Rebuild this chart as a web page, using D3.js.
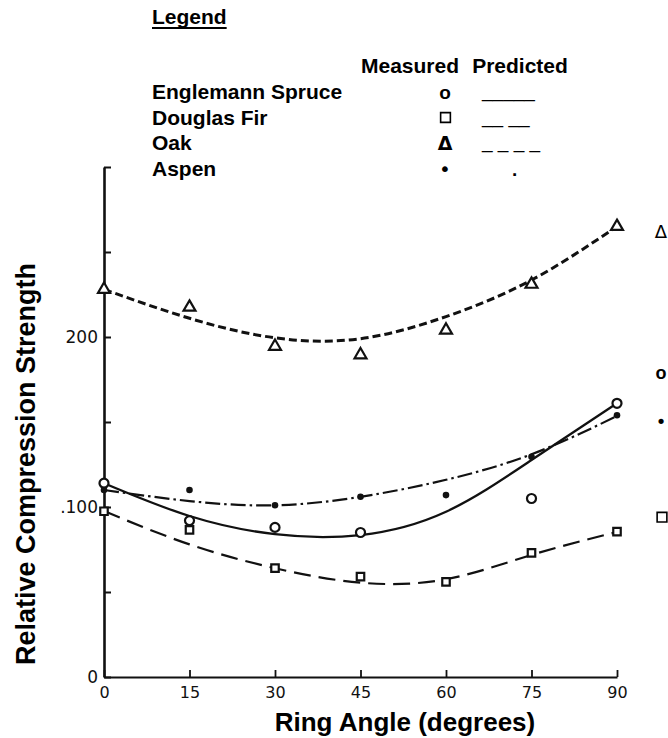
<!DOCTYPE html>
<html>
<head>
<meta charset="utf-8">
<script src="https://cdn.jsdelivr.net/npm/d3@7/dist/d3.min.js"></script>
<style>
  html, body { margin: 0; padding: 0; background: #fff; }
  svg { display: block; }
  .lbl { font-family: "Liberation Sans", Arial, sans-serif; font-weight: bold; fill: #000; }
  .tick text { font-family: "DejaVu Sans", sans-serif; fill: #111; }
</style>
</head>
<body>
<svg id="chart" width="668" height="738"></svg>
<script>
// Ring angle (degrees) at which each specimen group was tested
const angles = [0, 15, 30, 45, 60, 75, 90];

// Measured relative compression strength
const spruceMeasured = [114, 92, 88, 85, null, 105, 161];
const firMeasured    = [97.5, 86.5, 64, 59, 56, 73, 85.5];
const oakMeasured    = [228, 217.5, 194.5, 189.5, 204, 231, 265];
const aspenMeasured  = [110, 110, 101, 106, 107, 129.5, 154];

// Predicted relative compression strength
const sprucePredicted = [114, 94.7, 84, 83.5, 97.2, 127.6, 161];
const firPredicted    = [97.6, 78, 64, 55.5, 57.5, 71.8, 85.3];
const oakPredicted    = [228, 211, 199.5, 199, 212, 233.5, 265];
const aspenPredicted  = [110, 103.5, 101, 106, 116, 131, 153.5];

// Axis ticks
const xTickValues = [0, 15, 30, 45, 60, 75, 90];
const yTickValues = [0, 50, 100, 150, 200, 250, 300];
const yTickLabels = ["0", "", ".100", "", "200", "", ""];

// Legend rows
const speciesNames    = ["Englemann Spruce", "Douglas Fir", "Oak", "Aspen"];
const measuredGlyphs  = ["o", null, "\u0394", "\u2022"];   // null: drawn as an open square
const predictedGlyphs = ["_____", "__ __", "_ _ _ _", "."];

// Series keys printed beside the right-hand ends of the curves
const sideKeyGlyphs = ["\u0394", "o", "\u2022", null];       // null: drawn as an open square
const sideKeyLevels = [262, 179, 150, 94];

const svg = d3.select("#chart");

const x = d3.scaleLinear().domain([0, 90]).range([104, 617]);
const y = d3.scaleLinear().domain([0, 300]).range([677, 167]);

// ---- axes ----
const yAxis = d3.axisLeft(y)
  .tickValues(yTickValues)
  .tickSizeInner(-7).tickSizeOuter(0).tickPadding(6)
  .tickFormat((d, i) => yTickLabels[i]);
const gy = svg.append("g").attr("transform", `translate(${x(0)},0)`).call(yAxis);
gy.select(".domain").attr("stroke", "#111").attr("stroke-width", 2.6);
gy.selectAll(".tick line").attr("stroke", "#111").attr("stroke-width", 2);
gy.selectAll(".tick text").attr("font-size", 17);

const xAxis = d3.axisBottom(x)
  .tickValues(xTickValues)
  .tickSizeInner(-7).tickSizeOuter(0).tickPadding(10)
  .tickFormat(d3.format("d"));
const gx = svg.append("g").attr("transform", `translate(0,${y(0)})`).call(xAxis);
gx.select(".domain").attr("stroke", "#111").attr("stroke-width", 2.2);
gx.selectAll(".tick line").attr("stroke", "#111").attr("stroke-width", 1.8);
gx.selectAll(".tick text").attr("font-size", 16);

// ---- predicted curves ----
const series = [
  { measured: spruceMeasured, predicted: sprucePredicted, dash: null,         width: 2.3, marker: "circle" },
  { measured: firMeasured,    predicted: firPredicted,    dash: "17 8",       width: 2.2, marker: "square" },
  { measured: oakMeasured,    predicted: oakPredicted,    dash: "8 4",        width: 3.0, marker: "triangle" },
  { measured: aspenMeasured,  predicted: aspenPredicted,  dash: "15 4 2.5 4", width: 2.2, marker: "dot" }
];

const line = d3.line()
  .defined(d => d[1] != null)
  .x(d => x(d[0]))
  .y(d => y(d[1]))
  .curve(d3.curveNatural);

series.forEach(s => {
  svg.append("path")
    .datum(angles.map((a, i) => [a, s.predicted[i]]))
    .attr("d", line)
    .attr("fill", "none")
    .attr("stroke", "#111")
    .attr("stroke-width", s.width)
    .attr("stroke-dasharray", s.dash)
    .attr("stroke-linecap", "butt");
});

// ---- measured points ----
const sym = {
  circle:   d3.symbol().type(d3.symbolCircle).size(64),
  square:   d3.symbol().type(d3.symbolSquare).size(56),
  triangle: d3.symbol().type(d3.symbolTriangle).size(62),
  dot:      d3.symbol().type(d3.symbolCircle).size(34)
};

series.forEach(s => {
  const pts = angles.map((a, i) => [a, s.measured[i]]).filter(d => d[1] != null);
  svg.append("g").selectAll("path")
    .data(pts)
    .join("path")
    .attr("d", sym[s.marker])
    .attr("transform", d => `translate(${x(d[0])},${y(d[1])})`)
    .attr("fill", s.marker === "dot" ? "#111" : "#fff")
    .attr("stroke", "#111")
    .attr("stroke-width", s.marker === "dot" ? 0 : 2.2);
});

// open square used in the key and legend
const keySquare = d3.symbol().type(d3.symbolSquare).size(95);

// ---- legend ----
const legend = svg.append("g");
const title = legend.append("text").attr("class", "lbl")
  .attr("x", 152).attr("y", 24).attr("font-size", 21).text("Legend");
const tw = title.node().getComputedTextLength();
legend.append("line")
  .attr("x1", 152).attr("x2", 152 + tw)
  .attr("y1", 28).attr("y2", 28)
  .attr("stroke", "#000").attr("stroke-width", 2);

legend.append("text").attr("class", "lbl")
  .attr("x", 410).attr("y", 73).attr("font-size", 21)
  .attr("text-anchor", "middle").text("Measured");
legend.append("text").attr("class", "lbl")
  .attr("x", 520).attr("y", 73).attr("font-size", 21)
  .attr("text-anchor", "middle").text("Predicted");

const rowY = [98.5, 124.5, 150, 176];
speciesNames.forEach((name, i) => {
  legend.append("text").attr("class", "lbl")
    .attr("x", 152).attr("y", rowY[i]).attr("font-size", 21).text(name);
  if (measuredGlyphs[i] === null) {
    legend.append("path")
      .attr("d", keySquare)
      .attr("transform", `translate(445.5,${rowY[i] - 7})`)
      .attr("fill", "#fff").attr("stroke", "#000").attr("stroke-width", 1.6);
  } else {
    legend.append("text")
      .attr("x", 445).attr("y", rowY[i])
      .attr("text-anchor", "middle")
      .attr("font-family", i === 0 ? "Liberation Sans, Arial, sans-serif" : "DejaVu Sans, sans-serif")
      .attr("font-weight", i === 0 || i === 2 ? "bold" : "normal")
      .attr("font-size", i === 3 ? 20 : 19)
      .attr("fill", "#000")
      .text(measuredGlyphs[i]);
  }
  legend.append("text")
    .attr("x", i === 3 ? 512 : 482).attr("y", rowY[i] - (i === 3 ? 0 : 2))
    .attr("font-family", "Liberation Sans, Arial, sans-serif")
    .attr("font-size", 19)
    .attr("font-weight", i === 3 ? "bold" : "normal")
    .attr("fill", "#000")
    .text(predictedGlyphs[i]);
});

// ---- series keys at right edge ----
sideKeyGlyphs.forEach((g, i) => {
  if (g === null) {
    svg.append("path")
      .attr("d", keySquare)
      .attr("transform", `translate(662,${y(sideKeyLevels[i])})`)
      .attr("fill", "#fff").attr("stroke", "#000").attr("stroke-width", 1.6);
    return;
  }
  svg.append("text")
    .attr("x", 661).attr("y", y(sideKeyLevels[i]))
    .attr("dy", "0.35em")
    .attr("text-anchor", "middle")
    .attr("font-family", i === 1 ? "Liberation Sans, Arial, sans-serif" : "DejaVu Sans, sans-serif")
    .attr("font-weight", i === 1 ? "bold" : "normal")
    .attr("font-size", 18)
    .attr("fill", "#000")
    .text(g);
});

// ---- axis titles ----
svg.append("text").attr("class", "lbl")
  .attr("x", 405).attr("y", 731).attr("font-size", 26)
  .attr("text-anchor", "middle").text("Ring Angle (degrees)");

svg.append("text").attr("class", "lbl")
  .attr("transform", "translate(35,464) rotate(-90)")
  .attr("font-size", 27)
  .attr("text-anchor", "middle").text("Relative Compression Strength");
</script>
</body>
</html>
